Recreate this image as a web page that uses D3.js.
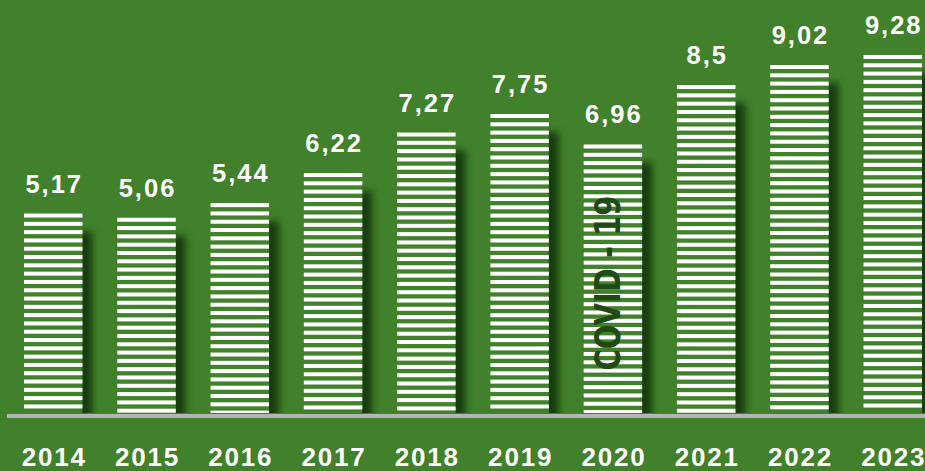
<!DOCTYPE html>
<html>
<head>
<meta charset="utf-8">
<script src="https://cdn.jsdelivr.net/npm/d3@7"></script>
<style>
  html, body { margin: 0; padding: 0; background: #41812b; overflow: hidden; }
  svg { display: block; }
  .valueLabel, .yearLabel text { font-family: "Liberation Sans", Arial, sans-serif; font-weight: 700; fill: #fff; }
</style>
</head>
<body>
<div class="chart"></div>
<script>
var w = 925;
var h = 471;
var bg = "#41812b";
var years = ["2014", "2015", "2016", "2017", "2018", "2019", "2020", "2021", "2022", "2023"];
var values = [5.17, 5.06, 5.44, 6.22, 7.27, 7.75, 6.96, 8.5, 9.02, 9.28];
var labels = ["5,17", "5,06", "5,44", "6,22", "7,27", "7,75", "6,96", "8,5", "9,02", "9,28"];
var noteYear = "2020";
var noteText = "COVID - 19";

var svg = d3.select(".chart")
            .append("svg")
            .attr("width", w)
            .attr("height", h);

svg.append("rect").attr("width", w).attr("height", h).attr("fill", bg);

var defs = svg.append("defs");
defs.append("filter").attr("id", "blur")
    .attr("x", "-50%").attr("y", "-50%").attr("width", "200%").attr("height", "200%")
    .append("feGaussianBlur").attr("stdDeviation", 3.5);
defs.append("clipPath").attr("id", "plotClip")
    .append("rect").attr("x", 0).attr("y", 0).attr("width", w).attr("height", 413);

// scales
var xScale = d3.scaleBand()
    .domain(years)
    .range([24, 922])
    .paddingInner(0.373)
    .paddingOuter(0);

var yScale = d3.scaleLinear()
    .domain([0, 10])
    .range([413, 27.2]);

var data = years.map(function (y, i) { return {year: y, value: values[i], label: labels[i]}; });

// shadows
svg.append("g")
   .attr("clip-path", "url(#plotClip)")
   .selectAll("rect")
   .data(data)
   .enter()
   .append("rect")
   .attr("x", (d) => xScale(d.year) + 10)
   .attr("y", (d) => yScale(d.value) + 18)
   .attr("width", xScale.bandwidth())
   .attr("height", (d) => yScale(0) - yScale(d.value))
   .attr("fill", "#173d0e")
   .attr("filter", "url(#blur)");

// bars (background block + stripes)
var bars = svg.selectAll(".bar")
   .data(data)
   .enter()
   .append("g")
   .attr("class", "bar");

bars.append("rect")
   .attr("x", (d) => xScale(d.year))
   .attr("y", (d) => yScale(d.value))
   .attr("width", xScale.bandwidth())
   .attr("height", (d) => yScale(0) - yScale(d.value))
   .attr("fill", bg);

var pitch = 8.3;
bars.selectAll(".stripe")
   .data((d) => d3.range(yScale(d.value), yScale(0) - 2, pitch).map((y) => ({year: d.year, y: y})))
   .enter()
   .append("rect")
   .attr("class", "stripe")
   .attr("x", (d) => xScale(d.year))
   .attr("y", (d) => d.y)
   .attr("width", xScale.bandwidth())
   .attr("height", (d) => Math.min(4, yScale(0) - d.y))
   .attr("fill", "#fff");

// value labels
svg.selectAll(".valueLabel")
   .data(data)
   .enter()
   .append("text")
   .attr("class", "valueLabel")
   .attr("x", (d) => xScale(d.year) + xScale.bandwidth() / 2 + 1)
   .attr("y", (d) => yScale(d.value) - 21)
   .attr("text-anchor", "middle")
   .attr("font-size", 25.5)
   .attr("letter-spacing", 2)
   .text((d) => d.label);

// baseline
svg.append("rect")
   .attr("x", 7)
   .attr("y", 414)
   .attr("width", w - 7)
   .attr("height", 4)
   .attr("fill", "#b5b5b5");

// year axis
var axis = svg.append("g")
   .attr("class", "yearLabel")
   .attr("transform", "translate(0,416)")
   .call(d3.axisBottom(xScale).tickSize(0));
axis.select(".domain").remove();
axis.selectAll("text")
   .attr("font-size", 26)
   .attr("letter-spacing", 1.8)
   .attr("dx", 1)
   .attr("dy", 0)
   .attr("y", 50)
   .attr("fill", "#fff");

// note
var nx = xScale(noteYear) + xScale.bandwidth() / 2 + 7;
svg.append("text")
   .attr("transform", "translate(" + nx + "," + 283 + ") rotate(-90)")
   .attr("text-anchor", "middle")
   .attr("font-family", "'Liberation Sans Narrow', 'DejaVu Sans Condensed', sans-serif")
   .attr("font-weight", 700)
   .attr("font-size", 35)
   .attr("textLength", 175)
   .attr("lengthAdjust", "spacingAndGlyphs")
   .attr("fill", "#1f4a14")
   .text(noteText);
</script>
</body>
</html>
